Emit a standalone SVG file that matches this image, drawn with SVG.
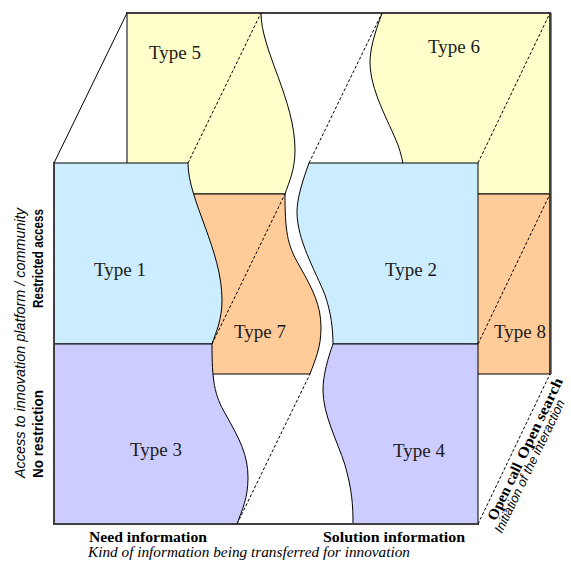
<svg xmlns="http://www.w3.org/2000/svg" width="571" height="562" viewBox="0 0 571 562">
<style>
.sh{stroke:#000;stroke-width:1;stroke-linejoin:round}
.blue{fill:#CCECFF}.yel{fill:#FFFFCC}.org{fill:#FFCC99}.lav{fill:#CCCCFF}
.lbl{font-family:"Liberation Serif",serif;font-size:19px;fill:#1a1a1a;text-anchor:middle}
.frame{stroke:#404040;stroke-width:2;fill:none;stroke-linecap:square}
.solid{stroke:#000;stroke-width:1;fill:none}
.dash{stroke:#000;stroke-width:1;stroke-dasharray:3 2;fill:none}
.axb{font-family:"Liberation Serif",serif;font-weight:bold;font-size:14px;fill:#000}
.axi{font-family:"Liberation Serif",serif;font-style:italic;font-size:14px;fill:#000}
.sb{font-family:"Liberation Sans",sans-serif;font-weight:bold;font-size:14px;fill:#000}
.si{font-family:"Liberation Sans",sans-serif;font-style:italic;font-size:14px;fill:#000}
</style>
<defs>
<path id="pA" d="M54,163 L188,163 C188,200 222,250 222,300 C222,320 216,332 212,344 L54,344 Z"/>
<path id="pB" d="M54,344 L212,344 C212,380 214,395 226,415 C240,440 248,455 248,478 C248,498 242,510 237,524 L54,524 Z"/>
<path id="pC" d="M478,163 L309,163 C301,185 297,200 297,212 C297,240 315,270 325,295 C331,312 333,330 333,344 L478,344 Z"/>
<path id="pD" d="M478,344 L333,344 C328,358 323,375 323,390 C323,415 337,440 345,465 C352,490 353,505 353,524 L478,524 Z"/>
</defs>
<rect width="571" height="562" fill="#fff"/>
<!-- back blocks -->
<g id="type5"><use href="#pA" class="sh yel" transform="translate(73,-150)"/><text class="lbl" x="175" y="59">Type 5</text></g>
<g id="type7"><use href="#pB" class="sh org" transform="translate(73,-150)"/><text class="lbl" x="260" y="338">Type 7</text></g>
<g id="type6"><use href="#pC" class="sh yel" transform="translate(73,-150)"/><text class="lbl" x="454" y="53">Type 6</text></g>
<g id="type8"><use href="#pD" class="sh org" transform="translate(73,-150)"/><text class="lbl" x="520" y="338">Type 8</text></g>
<!-- front blocks -->
<g id="type1"><use href="#pA" class="sh blue"/><text class="lbl" x="120" y="276">Type 1</text></g>
<g id="type3"><use href="#pB" class="sh lav"/><text class="lbl" x="156" y="456">Type 3</text></g>
<g id="type2"><use href="#pC" class="sh blue"/><text class="lbl" x="411" y="276">Type 2</text></g>
<g id="type4"><use href="#pD" class="sh lav"/><text class="lbl" x="419" y="457">Type 4</text></g>
<!-- frame and connectors -->
<g id="connectors">
<path class="frame" d="M127,13 L550,13 L550,374"/>
<path class="frame" d="M54,163 L54,524 L478,524"/>
<line class="solid" x1="54" y1="163" x2="127" y2="13"/>
<line class="dash" x1="188" y1="163" x2="261" y2="13"/>
<line class="dash" x1="212" y1="344" x2="285" y2="194"/>
<line class="dash" x1="237" y1="524" x2="310" y2="374"/>
<line class="dash" x1="309" y1="163" x2="382" y2="13"/>
<line class="dash" x1="478" y1="163" x2="550" y2="13"/>
<line class="dash" x1="478" y1="344" x2="550" y2="194"/>
<line class="dash" x1="478" y1="524" x2="550" y2="374"/>
</g>
<!-- axis labels -->
<g id="axis-labels">
<text class="axb" x="89" y="542" textLength="118" lengthAdjust="spacingAndGlyphs">Need information</text>
<text class="axb" x="323" y="542" textLength="142" lengthAdjust="spacingAndGlyphs">Solution information</text>
<text class="axi" x="88" y="557" textLength="322" lengthAdjust="spacingAndGlyphs">Kind of information being transferred for innovation</text>
<text class="si" transform="translate(25,478) rotate(-90)" textLength="270" lengthAdjust="spacingAndGlyphs">Access to innovation platform / community</text>
<text class="sb" transform="translate(43,308) rotate(-90)" textLength="99" lengthAdjust="spacingAndGlyphs">Restricted access</text>
<text class="sb" transform="translate(43,478) rotate(-90)" textLength="88" lengthAdjust="spacingAndGlyphs">No restriction</text>
<g transform="translate(495.8,521.5) rotate(-64.4)">
<text class="axb" x="0" y="0" style="font-size:15px" textLength="62" lengthAdjust="spacingAndGlyphs">Open call</text>
<text class="axb" x="68" y="0" style="font-size:15px" textLength="88" lengthAdjust="spacingAndGlyphs">Open search</text>
</g>
<text class="si" transform="translate(502,534) rotate(-64.4)" style="font-size:13px" textLength="146" lengthAdjust="spacingAndGlyphs">Initiation of the interaction</text>
</g>
</svg>
